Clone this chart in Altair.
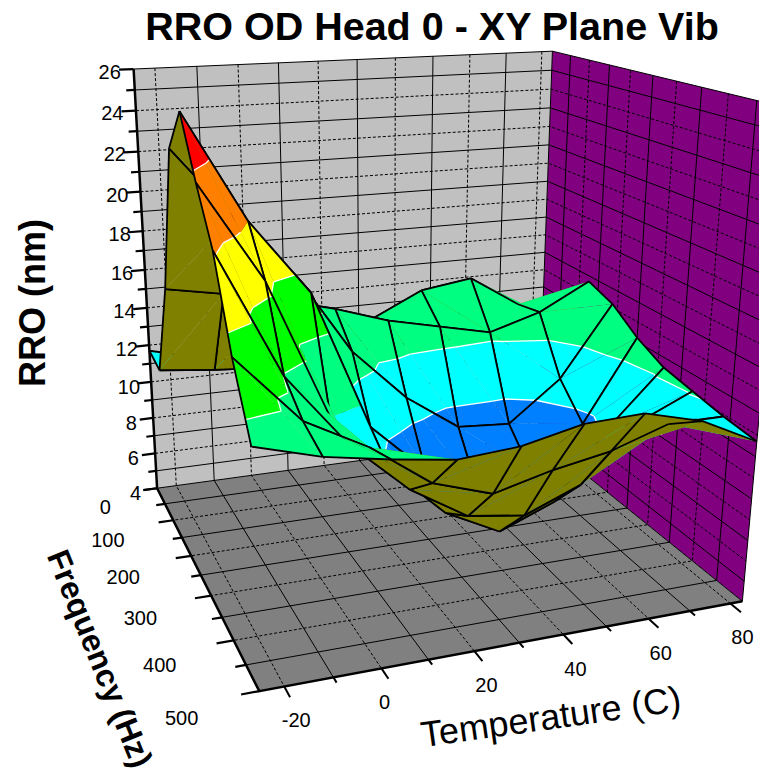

import numpy as np
import altair as alt

# ---- data ----
TEMPS = [-25, -11.5, 2, 15.5, 29, 42.5, 56, 69.5, 83]
FREQS = [0, 62.5, 125, 187.5, 250, 312.5, 375, 437.5, 500]
RRO_F0   = [11.7, 11.0, 10.5, 10.5, 10.5, 10.5, 10.5, 10.0, 9.5]
RRO_F62  = [11.5, 11.2, 11.0, 12.5, 13.0, 14.3, 14.7, 13.0, 10.7]
RRO_F125 = [16.4, 15.9, 15.3, 14.6, 13.7, 13.1, 12.5, 13.3, 14.7]
RRO_F187 = [23.5, 20.2, 17.3, 13.2, 10.5, 8.6, 8.4, 10.5, 14.2]
RRO_F250 = [25.5, 20.6, 17.1, 10.3, 7.7, 6.2, 6.9, 9.0, 13.2]
RRO_F312 = [23.0, 18.6, 12.1, 9.2, 6.6, 5.2, 6.3, 9.8, 12.5]
RRO_F375 = [20.8, 15.2, 11.8, 9.3, 7.6, 7.2, 8.3, 11.0, 12.2]
RRO_F437 = [17.2, 14.2, 12.7, 10.7, 9.8, 10.5, 11.0, 11.9, 11.9]
RRO_F500 = [14.5, 13.7, 13.2, 12.8, 13.0, 13.6, 13.7, 13.0, 11.7]
RRO = [RRO_F0, RRO_F62, RRO_F125, RRO_F187, RRO_F250, RRO_F312, RRO_F375, RRO_F437, RRO_F500]

T_MIN, T_MAX, F_MIN, F_MAX, Z_MIN, Z_MAX = -25, 83, 0, 500, 4, 26
Z_TICKS = list(range(4, 27))
T_MAJOR = [-20, 0, 20, 40, 60, 80]
T_MINOR = [-10, 10, 30, 50, 70]
F_MAJOR = [0, 100, 200, 300, 400, 500]
F_MINOR = [50, 150, 250, 350, 450]
Z_LABELS = list(range(4, 27, 2))
BANDS = [(-99, 9.5, "#0080FF"), (9.5, 12.1, "#00FFFF"), (12.1, 15.3, "#00FF80"), (15.3, 18, "#00FF00"),
         (18, 20.6, "#FFFF00"), (20.6, 23.4, "#FF8000"), (23.4, 99, "#FF0000")]
UNDERSIDE = "#808000"

# ---- view: a camera fitted to the corners of the box as seen in the picture ----
CORNERS = [((-25, 0, 4), (156, 490.7)), ((-25, 0, 26), (135, 68)), ((83, 0, 26), (549, 52)), ((83, 0, 4), (541, 434)),
           ((83, 500, 4), (740, 603)), ((83, 500, 26), (790, 108)), ((-25, 500, 4), (259, 689))]
rows = []
for (X, Y, Z), (u, v) in CORNERS:
    rows.append([X, Y, Z, 1, 0, 0, 0, 0, -u*X, -u*Y, -u*Z, -u])
    rows.append([0, 0, 0, 0, X, Y, Z, 1, -v*X, -v*Y, -v*Z, -v])
P = np.linalg.svd(np.array(rows, float))[2][-1].reshape(3, 4)
P = P / P[2, 3]

def pr(p):
    a = P @ np.array([p[0], p[1], p[2], 1.0])
    return [round(float(a[0]/a[2]), 2), round(float(a[1]/a[2]), 2)]

def depth(p):
    a = P @ np.array([p[0], p[1], p[2], 1.0])
    return float(a[2])

def poly(pts, fill):
    c = [pr(p) for p in pts]
    c.append(c[0])
    return {"type": "Feature", "geometry": {"type": "Polygon", "coordinates": [c]},
            "properties": {"fill": fill, "stroke": "transparent", "sw": 0}}

def line(pts, stroke="#000000", sw=1.0):
    return {"type": "Feature", "geometry": {"type": "LineString", "coordinates": [pr(p) for p in pts]},
            "properties": {"fill": "transparent", "stroke": stroke, "sw": sw}}

# ---- walls ----
walls = [
    poly([(T_MIN, 0, Z_MIN), (T_MAX, 0, Z_MIN), (T_MAX, 0, Z_MAX), (T_MIN, 0, Z_MAX)], "#C0C0C0"),
    poly([(T_MAX, 0, Z_MIN), (T_MAX, 500, Z_MIN), (T_MAX, 500, Z_MAX), (T_MAX, 0, Z_MAX)], "#800080"),
    poly([(T_MIN, 0, Z_MIN), (T_MAX, 0, Z_MIN), (T_MAX, 500, Z_MIN), (T_MIN, 500, Z_MIN)], "#808080"),
]
solid, dashed = [], []
for z in Z_TICKS[1:-1]:
    tgt = dashed if z % 2 == 0 else solid
    tgt.append(line([(T_MIN, 0, z), (T_MAX, 0, z), (T_MAX, 500, z)]))
for t, tgt in [(t, dashed) for t in T_MAJOR] + [(t, solid) for t in T_MINOR]:
    tgt.append(line([(t, 0, Z_MAX), (t, 0, Z_MIN), (t, 500, Z_MIN)]))
for f, tgt in [(f, dashed) for f in F_MAJOR[1:-1]] + [(f, solid) for f in F_MINOR]:
    tgt.append(line([(T_MAX, f, Z_MAX), (T_MAX, f, Z_MIN), (T_MIN, f, Z_MIN)]))
# box outline
solid.append(line([(T_MIN, 0, Z_MAX), (T_MAX, 0, Z_MAX), (T_MAX, 500, Z_MAX), (T_MAX, 500, Z_MIN)]))
solid.append(line([(T_MAX, 0, Z_MAX), (T_MAX, 0, Z_MIN), (T_MIN, 0, Z_MIN)]))
solid.append(line([(T_MAX, 0, Z_MIN), (T_MAX, 500, Z_MIN)]))

# ---- axes ----
axes = [line([(T_MIN, 0, Z_MAX), (T_MIN, 0, Z_MIN), (T_MIN, 500, Z_MIN), (T_MAX, 500, Z_MIN)], sw=2.5)]
for z in Z_TICKS:
    axes.append(line([(T_MIN, 0, z), (T_MIN - (3.4 if z % 2 == 0 else 2.0), 0, z)], sw=2.2))
for f in F_MAJOR:
    axes.append(line([(T_MIN, f, Z_MIN), (T_MIN - 3.6, f, Z_MIN)], sw=2.2))
for f in F_MINOR:
    axes.append(line([(T_MIN, f, Z_MIN), (T_MIN - 2.2, f, Z_MIN)], sw=2.2))
for t in T_MAJOR:
    axes.append(line([(t, 500, Z_MIN), (t, 520, Z_MIN)], sw=2.0))
for t in T_MINOR:
    axes.append(line([(t, 500, Z_MIN), (t, 510, Z_MIN)], sw=2.0))

# ---- surface ----
def clip(pts, level, keep_above):
    out = []
    n = len(pts)
    for k in range(n):
        a, b = pts[k], pts[(k+1) % n]
        ina = (a[2] >= level) if keep_above else (a[2] <= level)
        inb = (b[2] >= level) if keep_above else (b[2] <= level)
        if ina:
            out.append(a)
        if ina != inb:
            s = (level - a[2]) / (b[2] - a[2])
            out.append((a[0]+s*(b[0]-a[0]), a[1]+s*(b[1]-a[1]), level))
    return out

def area(pts):
    q = [pr(p) for p in pts]
    return (q[1][0]-q[0][0])*(q[2][1]-q[0][1]) - (q[1][1]-q[0][1])*(q[2][0]-q[0][0])

V = lambda i, j: (TEMPS[i], FREQS[j], RRO[j][i])
surface = []
cells = [(i, j) for i in range(8) for j in range(8)]
cells.sort(key=lambda c: -depth((TEMPS[c[0]]/2+TEMPS[c[0]+1]/2, FREQS[c[1]]/2+FREQS[c[1]+1]/2, 10)))
for i, j in cells:
    a, b, c, d = V(i, j), V(i+1, j), V(i+1, j+1), V(i, j+1)
    tris = [(a, b, c), (a, c, d)]
    tris.sort(key=lambda t: -depth(np.mean(t, axis=0)))
    for tri in tris:
        flat = [(p[0], p[1], 10) for p in tri]
        if area(tri) * area(flat) <= 0:
            surface.append(poly(tri, UNDERSIDE))
            continue
        for lo, hi, col in BANDS:
            pg = clip(clip(list(tri), lo, True), hi, False)
            if len(pg) >= 3:
                surface.append(poly(pg, col))
        for lo, hi, col in BANDS[1:]:
            seg = []
            for k in range(3):
                p, q = tri[k], tri[(k+1) % 3]
                if (p[2] - lo) * (q[2] - lo) < 0:
                    s = (lo - p[2]) / (q[2] - p[2])
                    seg.append((p[0]+s*(q[0]-p[0]), p[1]+s*(q[1]-p[1]), lo))
            if len(seg) == 2:
                surface.append(line(seg, "#FFFFFF", 1.3))
    for e in [(a, b), (b, c), (c, d), (d, a)]:
        surface.append(line(list(e), "#000000", 1.8))

# ---- texts ----
def tx(p, s, dx=0, dy=0):
    q = pr(p)
    return {"x": q[0]-8+dx, "y": q[1]-8+dy, "s": s}

z_text = [tx((T_MIN-5.6, 0, z-0.12), str(z), dy=1 if z < 12 else 0) for z in Z_LABELS]
f_text = [tx((T_MIN-12.1, f, Z_MIN-0.75), str(f)) for f in F_MAJOR]
t_text = [tx((t, 500, Z_MIN), str(t), dx=3 if t == 0 else 12, dy=35) for t in T_MAJOR]

def geo(feats, dash=None):
    kw = {"strokeDash": dash} if dash else {}
    return alt.Chart(alt.Data(values=feats)).mark_geoshape(**kw).encode(
        fill=alt.Fill(field="properties.fill", type="nominal", scale=None),
        stroke=alt.Stroke(field="properties.stroke", type="nominal", scale=None),
        strokeWidth=alt.StrokeWidth(field="properties.sw", type="quantitative", scale=None),
    ).project(type="identity", scale=1, translate=[-8, -8])

def text(rows, size, bold=False, align="center", angle=0):
    return alt.Chart(alt.Data(values=rows)).mark_text(
        font="Liberation Sans", fontSize=size, fontWeight="bold" if bold else "normal",
        align=align, baseline="middle", angle=angle, color="#000000"
    ).encode(x=alt.X("x:Q", scale=None, axis=None), y=alt.Y("y:Q", scale=None, axis=None), text="s:N")

def at(x, y, s):
    return [{"x": x-8, "y": y-8, "s": s}]

chart = alt.layer(
    geo(walls), geo(solid), geo(dashed, dash=[3, 2]), geo(axes), geo(surface),
    text(z_text, 20), text(f_text, 20, align="right"), text(t_text, 20),
    text(at(432, 28, "RRO OD Head 0 - XY Plane Vib"), 39.5, bold=True),
    text(at(34, 303, "RRO (nm)"), 36, bold=True, angle=270),
    text(at(99, 659, "Frequency (Hz)"), 32, bold=True, angle=68),
    text(at(551, 718, "Temperature (C)"), 36, angle=352),
).properties(width=751, height=764, padding=0, autosize=alt.AutoSizeParams(type="none")
).configure_view(stroke=None)

chart.save("out.html", embed_options={"renderer": "svg", "actions": False})
